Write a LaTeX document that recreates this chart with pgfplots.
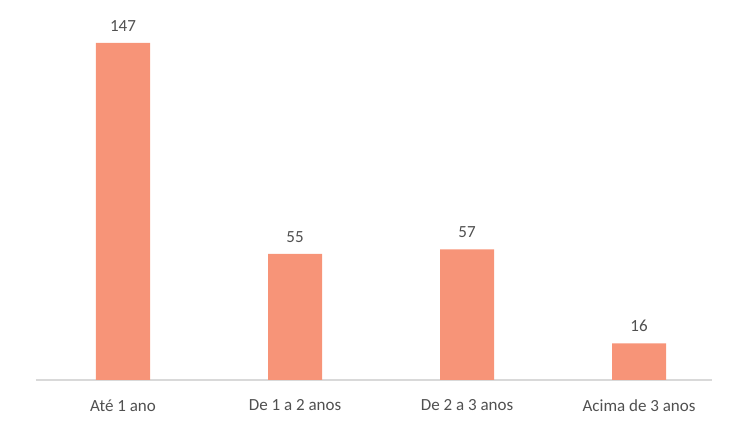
\documentclass[border=0pt]{standalone}
\usepackage{pgfplots}
\pgfplotsset{compat=1.18}
\usepackage{fontspec}
\setmainfont{Carlito}
\definecolor{barc}{RGB}{247,148,120}
\definecolor{txt}{RGB}{80,80,80}
\definecolor{axc}{RGB}{217,217,217}
\begin{document}
\begin{tikzpicture}[x=1pt,y=1pt]
\useasboundingbox (0,0) rectangle (732,427);
\begin{axis}[
  at={(123pt,47pt)}, anchor=origin,
  scale only axis, width=676pt, height=360pt,
  xmin=-0.506, xmax=3.424, ymin=0, ymax=157,
  axis y line=none, axis x line*=bottom,
  x axis line style={axc, line width=1.5pt, -},
  xtick=data, xticklabels={Até 1 ano, De 1 a 2 anos, De 2 a 3 anos, Acima de 3 anos},
  xtick style={draw=none},
  xticklabel style={font=\fontsize{17}{20}\selectfont, text=txt, yshift=-12pt},
  ybar, bar width=54pt,
  nodes near coords,
  nodes near coords style={font=\fontsize{17}{20}\selectfont, text=txt, yshift=8pt},
  /pgf/number format/assume math mode=true,
]
\addplot[fill=barc, draw=none] coordinates {(0,147) (1,55) (2,57) (3,16)};
\end{axis}
\end{tikzpicture}
\end{document}
